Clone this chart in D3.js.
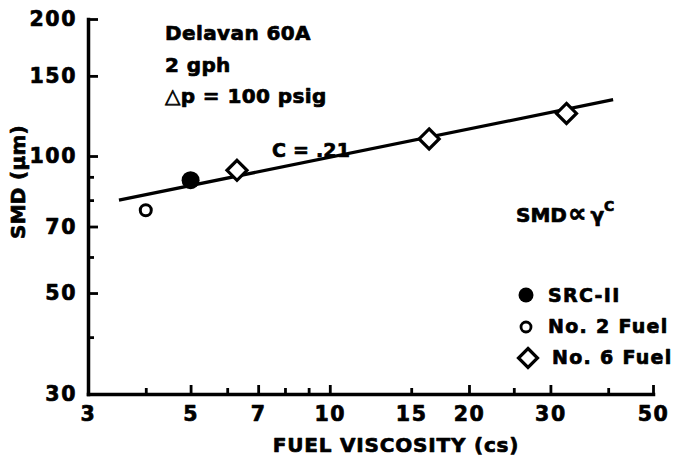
<!DOCTYPE html>
<html>
<head>
<meta charset="utf-8">
<script src="https://cdn.jsdelivr.net/npm/d3@7/dist/d3.min.js"></script>
<style>
  html, body { margin: 0; padding: 0; background: #fff; }
  svg text { font-family: "DejaVu Sans", "Liberation Sans", Arial, sans-serif; font-weight: bold; fill: #000;
             stroke: #000; stroke-width: 0.7px; stroke-linejoin: round; }
</style>
</head>
<body>
<svg id="chart" width="677" height="458"></svg>
<script>
// Sauter mean diameter vs. fuel viscosity (log-log), Delavan 60A nozzle
const xLabelTicks = [3, 5, 7, 10, 15, 20, 30, 50];
const xLongTicks  = [5, 7, 10, 20, 30, 50];
const xShortTicks = [4, 6, 8, 9, 15, 25, 40];
const yLabelTicks = [30, 50, 70, 100, 150, 200];
const yShortTicks = [40, 60, 80, 90];

// measured points
const srcX = [5.0];             const srcY = [88.5];         // SRC-II
const no2X = [4.0];             const no2Y = [76];           // No. 2 Fuel
const no6X = [6.3, 16.4, 32.5]; const no6Y = [93, 109, 124]; // No. 6 Fuel

// power-law fit, SMD ∝ ν^0.21
const fitX = [3.5, 41];
const fitY = [80, 133];

const svg = d3.select("#chart");
const x = d3.scaleLog().domain([3, 50]).range([88, 653]);
const y = d3.scaleLog().domain([30, 200]).range([394, 19]);

const axisStroke = 3.5;
const tickStroke = 2.8;

// x axis
const gx = svg.append("g").attr("transform", "translate(0,394)");
gx.call(d3.axisBottom(x).tickValues(xLabelTicks).tickFormat(d3.format("d"))
  .tickSizeInner(0).tickSizeOuter(0).tickPadding(12));
gx.selectAll(".tick text").attr("font-size", 20.5).attr("letter-spacing", 1.6);
gx.select(".domain").attr("stroke", "#000").attr("stroke-width", axisStroke).attr("stroke-linecap", "square");
gx.selectAll(".tick line").remove();

const gxLong = svg.append("g").attr("transform", "translate(0,394)");
gxLong.call(d3.axisBottom(x).tickValues(xLongTicks).tickFormat("").tickSizeInner(-9).tickSizeOuter(0));
const gxShort = svg.append("g").attr("transform", "translate(0,394)");
gxShort.call(d3.axisBottom(x).tickValues(xShortTicks).tickFormat("").tickSizeInner(-6).tickSizeOuter(0));
[gxLong, gxShort].forEach(g => {
  g.select(".domain").remove();
  g.selectAll(".tick line").attr("stroke", "#000").attr("stroke-width", tickStroke);
});

// y axis
const gy = svg.append("g").attr("transform", "translate(88,0)");
gy.call(d3.axisLeft(y).tickValues(yLabelTicks).tickFormat(d3.format("d"))
  .tickSizeInner(-10).tickSizeOuter(0).tickPadding(11));
gy.selectAll(".tick text").attr("font-size", 20.5).attr("letter-spacing", 1.6);
gy.select(".domain").attr("stroke", "#000").attr("stroke-width", axisStroke).attr("stroke-linecap", "square");
gy.selectAll(".tick line").attr("stroke", "#000").attr("stroke-width", tickStroke);
const gyShort = svg.append("g").attr("transform", "translate(88,0)");
gyShort.call(d3.axisLeft(y).tickValues(yShortTicks).tickFormat("").tickSizeInner(-6).tickSizeOuter(0));
gyShort.select(".domain").remove();
gyShort.selectAll(".tick line").attr("stroke", "#000").attr("stroke-width", tickStroke);

// axis titles
svg.append("text").attr("x", 396).attr("y", 452).attr("text-anchor", "middle")
  .attr("font-size", 20).attr("letter-spacing", 0.8)
  .text("FUEL VISCOSITY (cs)");
svg.append("text").attr("transform", "translate(25,182) rotate(-90)")
  .attr("text-anchor", "middle").attr("font-size", 20).attr("letter-spacing", 0.3)
  .text("SMD (μm)");

// fit line
const line = d3.line().x(d => x(d[0])).y(d => y(d[1]));
svg.append("path").datum(d3.zip(fitX, fitY)).attr("d", line)
  .attr("fill", "none").attr("stroke", "#000").attr("stroke-width", 3.2);

// markers
const diamond = (cx, cy, r) => `M${cx},${cy - r}L${cx + r},${cy}L${cx},${cy + r}L${cx - r},${cy}Z`;

svg.selectAll(".no2").data(d3.zip(no2X, no2Y)).join("circle").attr("class", "no2")
  .attr("cx", d => x(d[0])).attr("cy", d => y(d[1])).attr("r", 5.5)
  .attr("fill", "#fff").attr("stroke", "#000").attr("stroke-width", 3);
svg.selectAll(".src").data(d3.zip(srcX, srcY)).join("circle").attr("class", "src")
  .attr("cx", d => x(d[0])).attr("cy", d => y(d[1])).attr("r", 9)
  .attr("fill", "#000");
svg.selectAll(".no6").data(d3.zip(no6X, no6Y)).join("path").attr("class", "no6")
  .attr("d", d => diamond(x(d[0]), y(d[1]), 10))
  .attr("fill", "#fff").attr("stroke", "#000").attr("stroke-width", 3.2).attr("stroke-linejoin", "miter");

// annotations
const notes = ["Delavan 60A", "2 gph", "△p = 100 psig"];
svg.selectAll(".note").data(notes).join("text").attr("class", "note")
  .attr("x", 165).attr("y", (d, i) => 40 + i * 31.5)
  .attr("font-size", 20).attr("letter-spacing", 0.4).text(d => d);

svg.append("text").attr("x", 272).attr("y", 157).attr("font-size", 19).attr("letter-spacing", 0.2)
  .text("C = .21");

const law = svg.append("text").attr("x", 516).attr("y", 222).attr("font-size", 20);
law.append("tspan").text("SMD");
law.append("tspan").attr("dx", 1).attr("font-size", 26).text("∝");
law.append("tspan").attr("dx", 4).text("γ");
law.append("tspan").attr("dy", -11).attr("font-size", 14).text("C");

// legend
const legend = svg.append("g");
legend.append("circle").attr("cx", 526).attr("cy", 295).attr("r", 7.5).attr("fill", "#000");
legend.append("circle").attr("cx", 526).attr("cy", 327).attr("r", 5)
  .attr("fill", "#fff").attr("stroke", "#000").attr("stroke-width", 2.8);
legend.append("path").attr("d", diamond(528, 358, 9.5))
  .attr("fill", "#fff").attr("stroke", "#000").attr("stroke-width", 3.2);
const legendLabels = ["SRC-II", "No. 2 Fuel", "No. 6 Fuel"];
legend.selectAll("text").data(legendLabels).join("text")
  .attr("x", (d, i) => i === 2 ? 552 : 548).attr("y", (d, i) => [302, 333, 364][i])
  .attr("font-size", 19).attr("letter-spacing", 1.3).text(d => d);
</script>
</body>
</html>
